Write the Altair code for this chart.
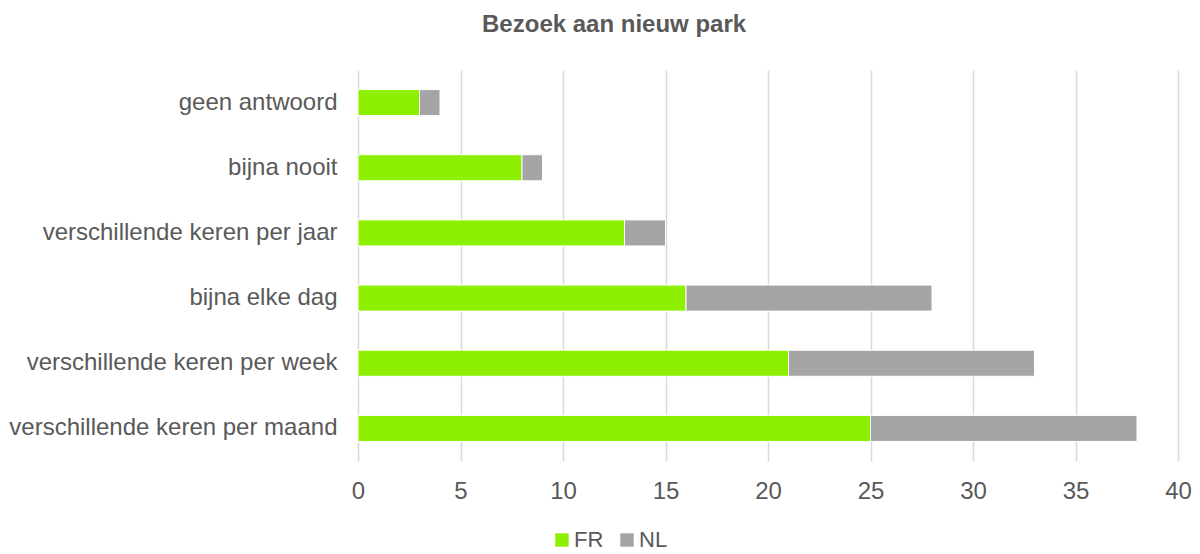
import altair as alt
import pandas as pd

categories = ["geen antwoord", "bijna nooit", "verschillende keren per jaar",
              "bijna elke dag", "verschillende keren per week", "verschillende keren per maand"]
fr_values = [3, 8, 13, 16, 21, 25]
nl_values = [1, 1, 2, 12, 12, 13]
series = ["FR", "NL"]
colors = ["#8CF000", "#A5A5A5"]

rows = []
for c, f, n in zip(categories, fr_values, nl_values):
    rows.append({"categorie": c, "reeks": "FR", "waarde": f, "volgorde": 0})
    rows.append({"categorie": c, "reeks": "NL", "waarde": n, "volgorde": 1})
df = pd.DataFrame(rows)

FONT = "Liberation Sans"
chart = alt.Chart(df).mark_bar(stroke="#ffffff", strokeWidth=1).encode(
    y=alt.Y("categorie:N", sort=categories, title=None,
            scale=alt.Scale(paddingInner=0.6, paddingOuter=0.3),
            axis=alt.Axis(labelFontSize=24, labelColor="#595959", labelFont=FONT,
                          labelPadding=21, ticks=False, domain=False, grid=False, labelLimit=500)),
    x=alt.X("waarde:Q", stack="zero", title=None,
            scale=alt.Scale(domain=[0, 40], nice=False),
            axis=alt.Axis(values=list(range(0, 41, 5)), labelFontSize=24, labelColor="#595959",
                          labelFont=FONT, labelPadding=18, labelFlush=False, ticks=False,
                          domain=False, grid=True, gridColor="#D9D9D9", gridWidth=1.5)),
    color=alt.Color("reeks:N", scale=alt.Scale(domain=series, range=colors),
                    legend=alt.Legend(title=None, orient="none", direction="horizontal",
                                      legendX=193, legendY=459, symbolType="square",
                                      symbolSize=180, symbolStrokeWidth=0, labelFontSize=22,
                                      labelColor="#595959", labelFont=FONT,
                                      labelOffset=1, columnPadding=12)),
    order=alt.Order("volgorde:Q", sort="ascending"),
).properties(
    width=820, height=391,
    title=alt.TitleParams("Bezoek aan nieuw park", fontSize=24, fontWeight="bold",
                          color="#595959", font=FONT, anchor="middle",
                          frame="bounds", offset=33, dx=14),
    padding={"left": 0, "top": 5, "right": 0, "bottom": 0},
).configure_view(stroke=None)

chart.save("out.html", embed_options={"renderer": "svg", "actions": False})
